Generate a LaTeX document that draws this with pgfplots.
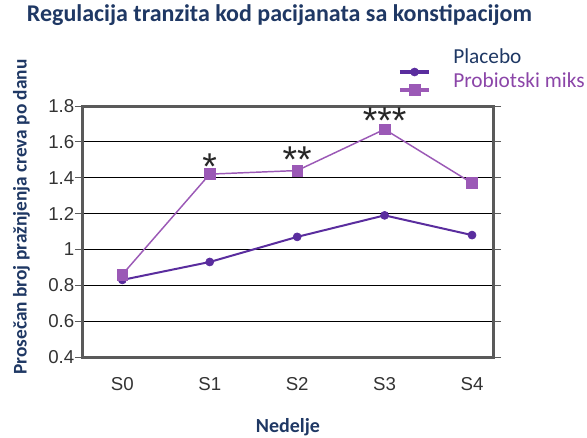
\documentclass[border=0pt]{standalone}
\usepackage{fontspec}
\usepackage{pgfplots}
\pgfplotsset{compat=1.18}
\setmainfont{Carlito}
\newfontfamily\arialf{Liberation Sans}
\definecolor{navy}{HTML}{1F3864}
\definecolor{plac}{HTML}{5A2D9E}
\definecolor{prob}{HTML}{9B59B6}
\definecolor{probtxt}{HTML}{8B45A8}
\definecolor{frame}{HTML}{5A5A5A}
\definecolor{tick}{HTML}{333333}
\pgfplotsset{
  placleg/.style={legend image code/.code={\draw[overlay,##1,mark=none,line width=2.6pt] (0pt,-9.75pt) -- (22pt,-9.75pt); \draw[overlay,##1] plot coordinates {(11pt,-9.75pt)}; \path[draw=none,fill=none] (0pt,-3pt) rectangle (22pt,3pt);}},
  probleg/.style={legend image code/.code={\draw[overlay,##1,mark=none,line width=2.6pt] (0pt,-5.25pt) -- (22pt,-5.25pt); \draw[overlay,##1] plot coordinates {(11pt,-5.25pt)}; \path[draw=none,fill=none] (0pt,-3pt) rectangle (22pt,3pt);}},
}
\begin{document}
\begin{tikzpicture}
\useasboundingbox (0,0) rectangle (440.25pt,327.75pt);
\begin{axis}[
  at={(62.25pt,60pt)}, anchor=south west,
  scale only axis, width=307.5pt, height=188.25pt,
  xmin=-0.45, xmax=4.24, ymin=0.4, ymax=1.8,
  xtick={0,1,2,3,4}, xticklabels={S0,S1,S2,S3,S4},
  ytick={0.4,0.6,0.8,1,1.2,1.4,1.6,1.8},
  /pgf/number format/assume math mode=true,
  ticklabel style={font=\arialf\fontsize{14}{16}\selectfont, text=tick},
  xtick style={draw=none},
  ytick style={draw=frame, line width=0.6pt},
  tick align=outside, major tick length=6pt,
  xticklabel style={yshift=-5.5pt},
  yticklabel style={xshift=3pt},
  axis line style={frame, line width=2.25pt},
  ymajorgrids, grid style={black, line width=0.75pt},
  title={Regulacija tranzita kod pacijanata sa konstipacijom},
  title style={at={(axis description cs:0.479,1.303)}, anchor=base, font=\bfseries\fontsize{18}{20}\selectfont, text=navy},
  ylabel={Prosečan broj pražnjenja creva po danu},
  ylabel style={at={(axis description cs:-0.150,0.558)}, anchor=center, font=\bfseries\fontsize{14.5}{16}\selectfont, text=navy},
  xlabel={Nedelje},
  xlabel style={at={(axis description cs:0.5,-0.299)}, anchor=base, font=\bfseries\fontsize{15}{17}\selectfont, text=navy},
  legend style={at={(axis description cs:0.773,1.235)}, anchor=north west, draw=none, fill=none,
    inner sep=0pt, outer sep=0pt, row sep=0pt, column sep=18pt,
    font=\fontsize{16}{18}\selectfont,
    nodes={inner sep=0pt, text height=12pt, text depth=6pt}},
  legend cell align=left,
]
\addplot[plac, line width=1.5pt, mark=*, mark size=3pt, mark options={fill=plac, draw=plac, line width=0.5pt}, placleg]
  coordinates {(0,0.83) (1,0.93) (2,1.07) (3,1.19) (4,1.08)};
\addlegendentry{\textcolor{navy}{Placebo}}
\addplot[prob, line width=1.1pt, mark=square*, mark size=4pt, mark options={fill=prob, draw=prob, line width=0.5pt}, probleg]
  coordinates {(0,0.86) (1,1.42) (2,1.44) (3,1.67) (4,1.37)};
\addlegendentry{\textcolor{probtxt}{Probiotski miks}}
\node[font=\arialf\fontsize{28}{28}\selectfont, anchor=base, yshift=-16pt, text=black!85] at (axis cs:1,1.51) {*};
\node[font=\arialf\fontsize{28}{28}\selectfont, anchor=base, yshift=-16pt, text=black!85] at (axis cs:2,1.55) {**};
\node[font=\arialf\fontsize{28}{28}\selectfont, anchor=base, yshift=-16pt, text=black!85] at (axis cs:3,1.765) {***};
\end{axis}
\end{tikzpicture}
\end{document}
